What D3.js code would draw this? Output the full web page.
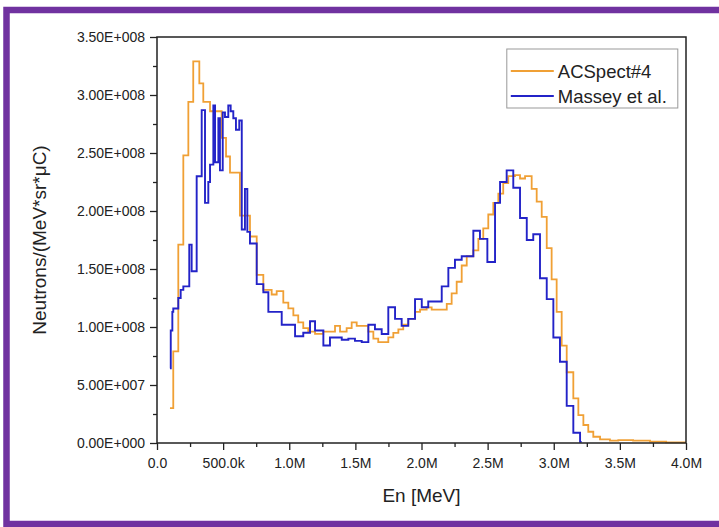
<!DOCTYPE html>
<html>
<head>
<meta charset="utf-8">
<script src="https://cdn.jsdelivr.net/npm/d3@7"></script>
<style>
  body { margin: 0; background: #fff; }
  svg text { font-family: "Liberation Sans", Arial, sans-serif; }
</style>
</head>
<body>
<svg class="chart"></svg>
<script>
// ACSpect#4 histogram: bin left edges (MeV) and values (1e8 neutrons/(MeV*sr*uC))
var acspectE = [0.098,0.123,0.161,0.199,0.237,0.274,0.320,0.350,0.401,0.489,0.522,0.552,0.627,0.703,0.754,0.804,0.867,0.905,0.955,0.993,1.031,1.068,1.106,1.144,1.195,1.257,1.346,1.384,1.434,1.472,1.510,1.598,1.636,1.673,1.749,1.787,1.825,1.862,1.900,1.951,1.989,2.039,2.077,2.191,2.228,2.266,2.304,2.342,2.392,2.430,2.467,2.505,2.543,2.581,2.618,2.656,2.707,2.745,2.783,2.833,2.871,2.909,2.947,2.984,3.022,3.060,3.098,3.148,3.186,3.224,3.261,3.299,3.350,3.425,3.488,3.600,3.728,3.850];
var acspectV = [0.30,0.79,1.71,2.48,2.94,3.29,3.10,2.94,2.86,2.63,2.47,2.33,1.96,1.78,1.45,1.32,1.28,1.31,1.21,1.16,1.10,1.04,0.99,0.96,0.94,0.96,1.01,0.96,0.99,1.04,1.01,0.96,0.90,0.87,0.91,0.95,0.98,1.02,1.07,1.13,1.15,1.17,1.15,1.20,1.29,1.39,1.53,1.61,1.66,1.76,1.85,1.97,2.07,2.15,2.24,2.30,2.31,2.28,2.30,2.19,2.08,1.95,1.68,1.41,1.13,0.84,0.61,0.385,0.24,0.155,0.097,0.054,0.032,0.02,0.025,0.02,0.011,0.005];
var acspectEnd = 4.0;

// Massey et al.
var masseyE = [0.098,0.104,0.116,0.123,0.161,0.179,0.199,0.244,0.262,0.300,0.338,0.363,0.388,0.401,0.426,0.439,0.464,0.476,0.497,0.514,0.539,0.557,0.577,0.597,0.622,0.641,0.665,0.683,0.703,0.754,0.804,0.842,0.943,1.044,1.106,1.157,1.195,1.258,1.308,1.397,1.447,1.497,1.548,1.598,1.648,1.699,1.749,1.800,1.850,1.900,1.951,2.002,2.051,2.153,2.203,2.253,2.304,2.392,2.442,2.498,2.556,2.594,2.644,2.694,2.745,2.796,2.845,2.896,2.947,2.997,3.047,3.098,3.148,3.199];
var masseyV = [0.644,0.97,1.13,1.16,1.25,1.32,1.35,1.71,1.48,2.30,2.87,2.07,2.25,2.40,2.91,2.42,2.80,2.35,2.85,2.81,2.91,2.86,2.80,2.70,2.78,1.84,2.19,1.82,1.72,1.37,1.30,1.13,1.02,0.92,0.95,1.05,0.97,0.84,0.91,0.89,0.90,0.88,0.87,1.02,0.98,0.94,1.17,1.07,1.01,1.07,1.24,1.17,1.22,1.35,1.51,1.58,1.61,1.83,1.76,1.56,2.07,2.25,2.35,2.20,1.94,1.75,1.80,1.42,1.24,0.91,0.70,0.32,0.089,0.01];
var masseyEnd = 3.211;

var xTicks = [0, 0.5, 1.0, 1.5, 2.0, 2.5, 3.0, 3.5, 4.0];
var xTickLabels = ["0.0","500.0k","1.0M","1.5M","2.0M","2.5M","3.0M","3.5M","4.0M"];
var yTicks = [0, 0.5, 1.0, 1.5, 2.0, 2.5, 3.0, 3.5];
var yTickLabels = ["0.00E+000","5.00E+007","1.00E+008","1.50E+008","2.00E+008","2.50E+008","3.00E+008","3.50E+008"];
var seriesNames = ["ACSpect#4", "Massey et al."];

var W = 719, H = 527;
var margin = {top: 37, right: 33, bottom: 84, left: 157},
    width = W - margin.left - margin.right,
    height = H - margin.top - margin.bottom;

var colors = {"ACSpect#4": "#f0a035", "Massey et al.": "#2323c8"};

var svg = d3.select('.chart')
    .attr("width", W)
    .attr("height", H);

// purple frame round the figure
svg.append("rect")
    .attr("x", 6.5).attr("y", 10)
    .attr("width", 800).attr("height", 514)
    .attr("fill", "none")
    .attr("stroke", "#7032a0")
    .attr("stroke-width", 6.5);

var g = svg.append("g").attr("transform", "translate(" + margin.left + "," + margin.top + ")");

var x = d3.scaleLinear().domain([0, 4]).range([0, width]);
var y = d3.scaleLinear().domain([0, 3.5]).range([height, 0]);

// minor ticks
g.append("g")
    .attr("class", "axis")
    .attr("transform", "translate(0," + height + ")")
    .call(d3.axisBottom(x).tickValues(d3.range(0.25, 4, 0.5)).tickSize(4).tickFormat(""));
g.append("g")
    .attr("class", "axis")
    .call(d3.axisLeft(y).tickValues(d3.range(0.25, 3.5, 0.5)).tickSize(4).tickFormat(""));

// major ticks
g.append("g")
    .attr("class", "axis x")
    .attr("transform", "translate(0," + height + ")")
    .call(d3.axisBottom(x).tickValues(xTicks).tickSize(7).tickPadding(8)
        .tickFormat(function(d, i){ return xTickLabels[i]; }));
g.append("g")
    .attr("class", "axis y")
    .call(d3.axisLeft(y).tickValues(yTicks).tickSize(7).tickPadding(5)
        .tickFormat(function(d, i){ return yTickLabels[i]; }));

g.selectAll(".axis .domain").remove();
g.selectAll(".axis line").attr("stroke", "#222").attr("stroke-width", 1.3);
g.selectAll(".axis text").attr("font-size", 14).attr("fill", "#222")
    .style("font-family", "'Liberation Sans', Arial, sans-serif");

// steps
function stepData(E, V, end) {
  var pts = E.map(function(e, i){ return [e, V[i]]; });
  pts.push([end, V[V.length - 1]]);
  return pts;
}
var line = d3.line()
    .curve(d3.curveStepAfter)
    .x(function(d){ return x(d[0]); })
    .y(function(d){ return y(d[1]); });

g.append("path")
    .datum(stepData(acspectE, acspectV, acspectEnd))
    .attr("fill", "none")
    .attr("stroke", colors["ACSpect#4"])
    .attr("stroke-width", 1.8)
    .attr("d", line);

g.append("path")
    .datum(stepData(masseyE, masseyV, masseyEnd))
    .attr("fill", "none")
    .attr("stroke", colors["Massey et al."])
    .attr("stroke-width", 1.9)
    .attr("d", line);

// frame
g.append("rect")
    .attr("width", width).attr("height", height)
    .attr("fill", "none")
    .attr("stroke", "#222")
    .attr("stroke-width", 1.5);

// axis titles
g.append("text")
    .attr("x", width / 2).attr("y", height + 59)
    .attr("text-anchor", "middle")
    .attr("font-size", 19)
    .attr("fill", "#222")
    .text("En [MeV]");

g.append("text")
    .attr("transform", "rotate(-90)")
    .attr("x", -height / 2).attr("y", -111)
    .attr("text-anchor", "middle")
    .attr("font-size", 19)
    .attr("fill", "#222")
    .text("Neutrons/(MeV*sr*\u03BCC)");

// legend
var legend = g.append("g").attr("transform", "translate(" + (x(2.645)) + "," + 12 + ")");
legend.append("rect")
    .attr("width", 171).attr("height", 59)
    .attr("fill", "#fff")
    .attr("stroke", "#999")
    .attr("stroke-width", 1);
seriesNames.forEach(function(name, i){
  legend.append("line")
      .attr("x1", 4).attr("x2", 47)
      .attr("y1", 22 + i * 25).attr("y2", 22 + i * 25)
      .attr("stroke", colors[name])
      .attr("stroke-width", 1.8);
  legend.append("text")
      .attr("x", 51).attr("y", 29 + i * 25)
      .attr("font-size", 18.5)
      .attr("fill", "#222")
      .text(name);
});
</script>
</body>
</html>
